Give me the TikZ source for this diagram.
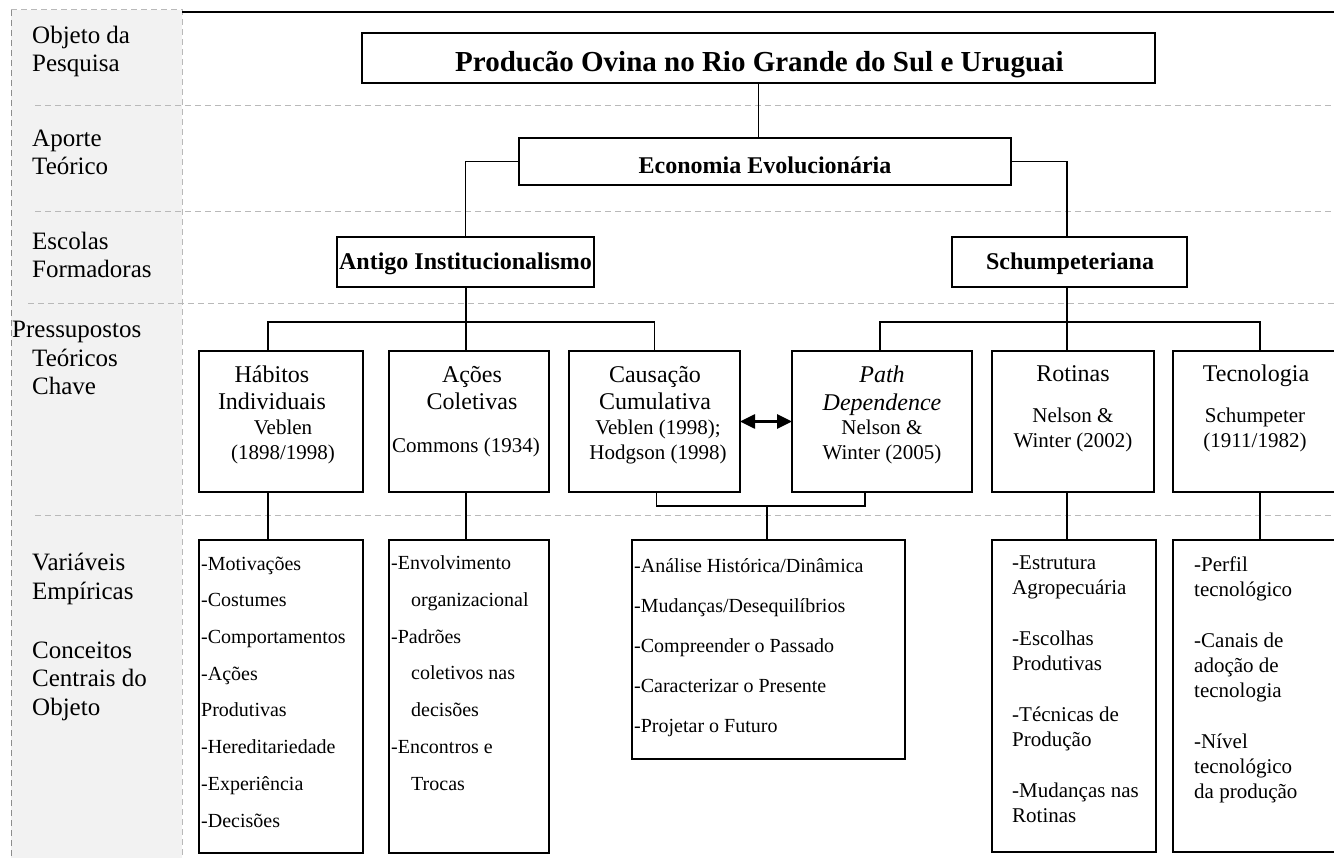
\documentclass[tikz,border=0pt]{standalone}
\usepackage{fontspec}
\setmainfont{Liberation Serif}
\usetikzlibrary{arrows.meta,positioning}

\begin{document}
\begin{tikzpicture}[x=1pt,y=-1pt,
  box/.style={draw,line width=2pt,inner sep=0pt,outer sep=0pt},
  head/.style={inner sep=0pt,anchor=base,font=\bfseries\fontsize{24}{28}\selectfont},
  key/.style={inner sep=0pt,anchor=base,align=center,font=\fontsize{24}{28}\selectfont},
  cite/.style={inner sep=0pt,anchor=base,align=center,font=\fontsize{21}{25}\selectfont},
  items/.style={inner sep=0pt,anchor=base west,align=left,font=\fontsize{20}{36.7}\selectfont},
  lbl/.style={inner sep=0pt,anchor=base west,align=left,font=\fontsize{25}{28.5}\selectfont},
  link/.style={line width=1.6pt},
  both/.style={line width=2.6pt,{Triangle[length=15pt,width=14pt]}-{Triangle[length=15pt,width=14pt]}},
  sep/.style={gray!55,line width=1pt,dash pattern=on 6pt off 4pt}]

\useasboundingbox (0,0) rectangle (1334,858);
\clip (0,0) rectangle (1334,858);

% left column (multi-line texts are placed at the base of their last line)
\fill[gray!10] (11,10) rectangle (182,858);
\draw[sep] (11,10) -- (182,10) -- (182,858);
\draw[sep,gray!90] (11,10) -- (11,858);
\draw[line width=2pt] (182,12) -- (1334,12);
\foreach \y/\x in {106/35,212/35,304/28,515/35}
  \draw[sep] (\x,\y) -- (1334,\y);

\node[lbl] (lObj) at (32,72) {Objeto da\\Pesquisa};
\node[lbl] (lApo) at (32,175) {Aporte\\Teórico};
\node[lbl] (lEsc) at (32,278) {Escolas\\Formadoras};
\node[lbl] (lPre) at (12,395) {Pressupostos\\\hspace*{20pt}Teóricos\\\hspace*{20pt}Chave};
\node[lbl] (lVar) at (32,599) {Variáveis\\Empíricas};
\node[lbl] (lCon) at (32,715) {Conceitos\\Centrais do\\Objeto};

% upper boxes
\node[box,minimum width=793pt,minimum height=50pt] (title) at (758.5,58) {};
\node[head,font=\bfseries\fontsize{29}{33}\selectfont] (titleT) at (759.5,72) {Producão Ovina no Rio Grande do Sul e Uruguai};
\node[box,minimum width=492pt,minimum height=47pt] (econ) at (765,161.5) {};
\node[head] (econT) at (765,174) {Economia Evolucionária};
\node[box,minimum width=257pt,minimum height=50pt] (antigo) at (465.5,262) {};
\node[head] (antigoT) at (465.5,270) {Antigo Institucionalismo};
\node[box,minimum width=235pt,minimum height=50pt] (schump) at (1069.5,262) {};
\node[head] (schumpT) at (1070,270) {Schumpeteriana};

% pressupostos
\node[box,minimum width=164pt,minimum height=141pt] (habitos) at (281,421.5) {};
\node[key] (habT) at (272,410) {Hábitos\\Individuais};
\node[cite] (habC) at (283,460) {Veblen\\(1898/1998)};
\node[box,minimum width=160pt,minimum height=141pt] (acoes) at (469,421.5) {};
\node[key] (acoT) at (472,410) {Ações\\Coletivas};
\node[cite] (acoC) at (466,453) {Commons (1934)};
\node[box,minimum width=171pt,minimum height=141pt] (causacao) at (654.5,421.5) {};
\node[key] (cauT) at (655,410) {Causação\\Cumulativa};
\node[cite] (cauC) at (658,460) {Veblen (1998);\\Hodgson (1998)};
\node[box,minimum width=180pt,minimum height=141pt] (pathdep) at (882,421.5) {};
\node[key,font=\itshape\fontsize{24}{28}\selectfont] (patT) at (882,411) {Path\\Dependence};
\node[cite] (patC) at (882,460) {Nelson \&\\Winter (2005)};
\node[box,minimum width=162pt,minimum height=141pt] (rotinas) at (1073,421.5) {};
\node[key] (rotT) at (1073,382) {Rotinas};
\node[cite] (rotC) at (1073,448) {Nelson \&\\Winter (2002)};
\node[box,minimum width=174pt,minimum height=141pt] (tecno) at (1260,421.5) {};
\node[key] (tecT) at (1256,382) {Tecnologia};
\node[cite] (tecC) at (1255,448) {Schumpeter\\(1911/1982)};

% variaveis
\node[box,minimum width=164pt,minimum height=313pt] (motiv) at (281,696.5) {};
\node[items] (motivT) at (201,827) {-Motivações\\-Costumes\\-Comportamentos\\-Ações\\Produtivas\\-Hereditariedade\\-Experiência\\-Decisões};
\node[box,minimum width=160pt,minimum height=313pt] (envolv) at (469,696.5) {};
\node[items] (envolvT) at (391,790) {-Envolvimento\\\hspace*{20pt}organizacional\\-Padrões\\\hspace*{20pt}coletivos nas\\\hspace*{20pt}decisões\\-Encontros e\\\hspace*{20pt}Trocas};
\node[box,minimum width=273pt,minimum height=219pt] (analise) at (768.5,649.5) {};
\node[items,font=\fontsize{20}{40}\selectfont] (analiseT) at (634,732) {-Análise Histórica/Dinâmica\\-Mudanças/Desequilíbrios\\-Compreender o Passado\\-Caracterizar o Presente\\-Projetar o Futuro};
\node[box,minimum width=164pt,minimum height=312pt] (rotlist) at (1074,696) {};
\node[items,font=\fontsize{21}{25}\selectfont] (rotlistT) at (1012,822) {-Estrutura\\Agropecuária\\[26pt]-Escolhas\\Produtivas\\[26pt]-Técnicas de\\Produção\\[26pt]-Mudanças nas\\Rotinas};
\node[box,minimum width=174pt,minimum height=312pt] (teclist) at (1260,696) {};
\node[items,font=\fontsize{21}{25}\selectfont] (teclistT) at (1194,798) {-Perfil\\tecnológico\\[26pt]-Canais de\\adoção de\\tecnologia\\[26pt]-Nível\\tecnológico\\da produção};

% connectors
\coordinate (jA) at (466,322);
\coordinate (jS) at (1067,322);
\coordinate (jC) at (767,506);
\draw[link] (title.south) -- (title.south |- econ.north);
\draw[link] (econ.west) -| (antigo.north);
\draw[link] (econ.east) -| (jS |- schump.north);
\draw[link] (jA |- antigo.south) -- (jA);
\draw[link] ([xshift=-13pt]habitos.north) |- (jA) -| (causacao.north);
\draw[link] (jA) -- (jA |- acoes.north);
\draw[link] (jS |- schump.south) -- (jS);
\draw[link] ([xshift=-2pt]pathdep.north) |- (jS) -| (tecno.north);
\draw[link] (jS) -- (jS |- rotinas.north);
\draw[link] ([xshift=-13pt]habitos.south) -- ([xshift=-13pt]motiv.north);
\draw[link] (jA |- acoes.south) -- (jA |- envolv.north);
\draw[link] ([xshift=2pt]causacao.south) |- (jC) -| ([xshift=-17pt]pathdep.south);
\draw[link] (jC) -- (jC |- analise.north);
\draw[link] (jS |- rotinas.south) -- (jS |- rotlist.north);
\draw[link] (tecno.south) -- (teclist.north);
\draw[both] (causacao.east) -- (pathdep.west);
\end{tikzpicture}
\end{document}
